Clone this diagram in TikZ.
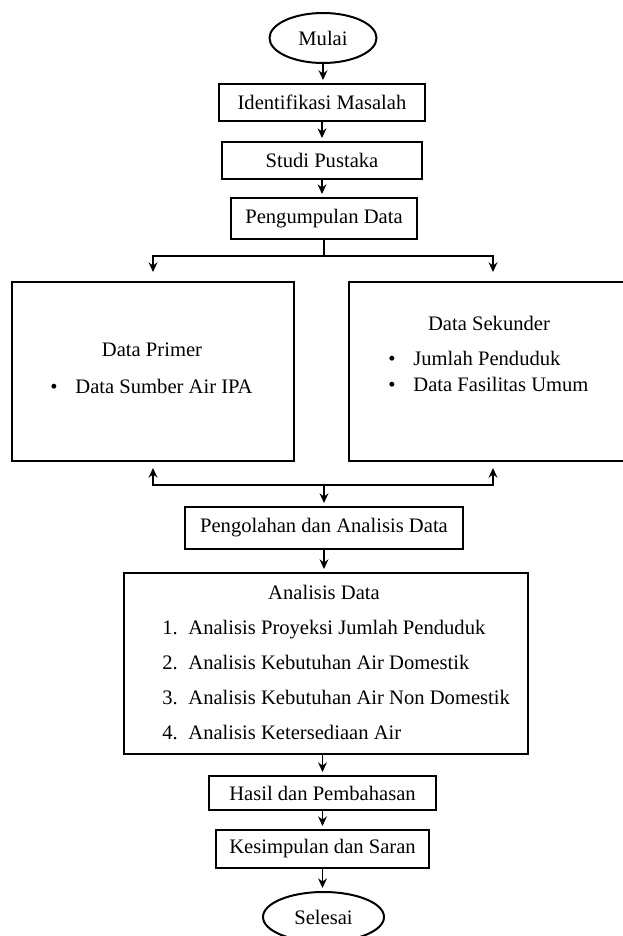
\documentclass[tikz,border=0pt]{standalone}
\usepackage{fontspec}
\setmainfont{Liberation Serif}
\usetikzlibrary{shapes.geometric,arrows.meta}

\newcommand{\teks}{\fontsize{10.3}{12.4}\selectfont}
\newcommand{\butir}[1]{\makebox[12.5pt][l]{\textbullet}#1}
\newcommand{\nomor}[1]{\makebox[13pt][l]{#1}}

\tikzset{
    kotak/.style={draw, line width=1pt, inner sep=0pt, font=\teks},
    terminal/.style={draw, ellipse, line width=1pt, inner sep=0pt, font=\teks},
    isi/.style={inner sep=0pt, align=left},
    panah/.style={-{Stealth[length=4.8pt,width=4.4pt]}, line width=0.8pt, shorten >=1.5pt},
    garis/.style={line width=0.8pt}
}

\begin{document}
\begin{tikzpicture}[x=0.5pt, y=-0.5pt]
            % Bounding box (pixels, origin top left)
            \useasboundingbox (0,0) rectangle (622,936);

            % Start
            \node[terminal, minimum width=53.5pt, minimum height=25pt] (mulai) at (323,38) {Mulai};

            % Main column of steps
            \node[kotak, minimum width=103pt, minimum height=18.5pt] (identifikasi) at (322,102.5) {Identifikasi Masalah};
            \node[kotak, minimum width=100pt, minimum height=18.5pt] (studi) at (322,160.5) {Studi Pustaka};
            \node[kotak, minimum width=93pt, minimum height=20.5pt] (kumpul) at (324,218.5) {Pengumpulan Data};

            % The two data boxes (right one runs past the page edge)
            \node[kotak, minimum width=141pt, minimum height=89.5pt] (primer) at (153,371.5) {};
            \node[kotak, minimum width=144pt, minimum height=89.5pt] (sekunder) at (493,371.5) {};

            \node[isi, font=\teks] (primerjudul) at (152,350) {Data Primer};
            \node[isi, font=\teks, anchor=west] (primerisi) at (50,386) {\butir{Data Sumber Air IPA}};

            \node[isi, font=\teks] (sekunderjudul) at (489,323) {Data Sekunder};
            \node[isi, font=\fontsize{10.3}{13}\selectfont, anchor=west] (sekunderisi) at (388,371)
                {\butir{Jumlah Penduduk}\\ \butir{Data Fasilitas Umum}};

            % Processing
            \node[kotak, minimum width=139pt, minimum height=21pt] (pengolahan) at (324,528) {Pengolahan dan Analisis Data};

            % Analysis box with numbered list
            \node[kotak, minimum width=202pt, minimum height=90.5pt] (analisis) at (326,663.5) {};
            \node[isi, font=\teks] (analisisjudul) at (324,592) {Analisis Data};
            \node[isi, font=\fontsize{10.3}{17.5}\selectfont, anchor=west] (analisisisi) at (162,679.5)
                {\nomor{1.}Analisis Proyeksi Jumlah Penduduk\\
                 \nomor{2.}Analisis Kebutuhan Air Domestik\\
                 \nomor{3.}Analisis Kebutuhan Air Non Domestik\\
                 \nomor{4.}Analisis Ketersediaan Air};

            % Results and end
            \node[kotak, minimum width=113.5pt, minimum height=17pt] (hasil) at (322.5,793) {Hasil dan Pembahasan};
            \node[kotak, minimum width=106.5pt, minimum height=19pt] (kesimpulan) at (322.5,849) {Kesimpulan dan Saran};
            \node[terminal, minimum width=60.5pt, minimum height=25pt] (selesai) at (323.5,917) {Selesai};

            % Arrows down the main column
            \draw[panah] (mulai.south) -- (mulai.south |- identifikasi.north);
            \draw[panah] (identifikasi.south) -- (identifikasi.south |- studi.north);
            \draw[panah] (studi.south) -- (studi.south |- kumpul.north);

            % Split to primary and secondary data
            \path (kumpul.south) ++(0,16) coordinate (cabang);
            \draw[garis] (kumpul.south) -- (cabang);
            \draw[panah, shorten >=4.5pt] (cabang) -| (primer.north);
            \draw[panah, shorten >=4.5pt] (cabang) -| (sekunder.north);

            % Join back into processing
            \path (pengolahan.north) ++(0,-21) coordinate (gabung);
            \draw[panah, shorten >=3pt] (gabung) -| (primer.south);
            \draw[panah, shorten >=3pt] (gabung) -| (sekunder.south);
            \draw[panah] (gabung) -- (pengolahan.north);

            % Remaining steps
            \draw[panah] (pengolahan.south) -- (pengolahan.south |- analisis.north);
            \draw[panah] (analisis.south -| hasil.north) -- (hasil.north);
            \draw[panah] (hasil.south) -- (hasil.south |- kesimpulan.north);
            \draw[panah] (kesimpulan.south) -- (kesimpulan.south |- selesai.north);
        \end{tikzpicture}
\end{document}
